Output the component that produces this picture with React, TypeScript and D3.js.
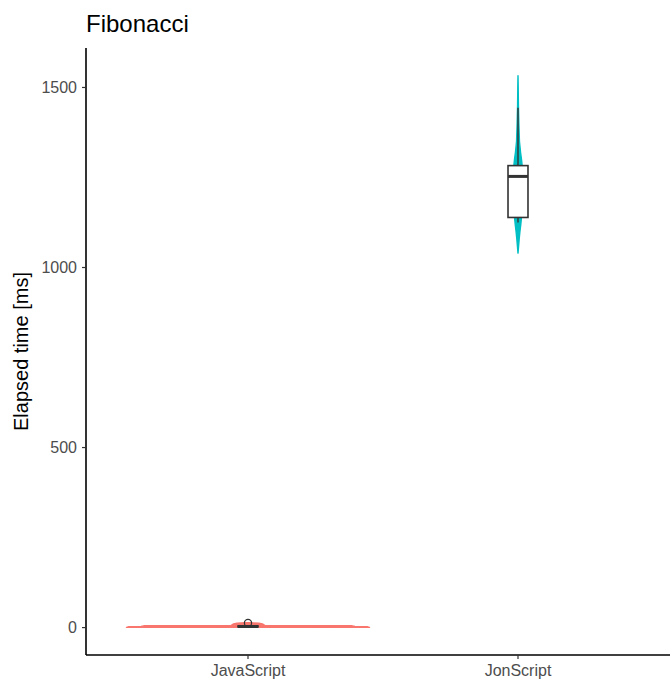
import React from 'react';
import * as d3 from 'd3';

// categories
const languages = ['JavaScript', 'JonScript'];
const langColors = ['#F8766D', '#00BFC4'];

// violin profiles: value [ms] and relative density (1 = full violin width)
const jsViolinValue = [0.5, 2.5, 3, 5, 5.5, 8, 10, 12, 13.5];
const jsViolinDensity = [1.0, 0.98, 0.88, 0.85, 0.14, 0.13, 0.12, 0.09, 0.02];
const jonViolinValue = [1040, 1060, 1080, 1100, 1120, 1140, 1180, 1220, 1250, 1280, 1300, 1320, 1350, 1400, 1450, 1500, 1533];
const jonViolinDensity = [0, 0.005, 0.01, 0.016, 0.023, 0.029, 0.035, 0.038, 0.04, 0.035, 0.029, 0.021, 0.012, 0.007, 0.0035, 0.0017, 0];

// boxplot stats: lower whisker, q1, median, q3, upper whisker
const jsBox = [1, 2, 3, 4.5, 7];
const jonBox = [1125, 1139, 1253, 1283, 1444];
const jsOutliers = [13];
const jonOutliers: number[] = [];

const yTicks = [0, 500, 1000, 1500];

const W = 670;
const H = 680;
const FONT = 'Liberation Sans, Arial, Helvetica, sans-serif';

const App = () => {
  const left = 86;
  const top = 48;
  const bottom = 655;

  const violins = [
    { value: jsViolinValue, density: jsViolinDensity },
    { value: jonViolinValue, density: jonViolinDensity },
  ];
  const boxes = [jsBox, jonBox];
  const outliers = [jsOutliers, jonOutliers];

  // ggplot style 5% expansion of the data range
  const allVals = [...jsViolinValue, ...jonViolinValue, ...jsOutliers];
  const lo = d3.min(allVals)!;
  const hi = d3.max(allVals)!;
  const pad = (hi - lo) * 0.05;

  const x = d3.scaleLinear().domain([0.4, 2.6]).range([left, 680]);
  const y = d3.scaleLinear().domain([lo - pad, hi + pad]).range([bottom, top]);

  // half width of violin in px (0.9 band units total)
  const halfW = d3.scaleLinear().domain([0, 1]).range([0, x(1.45) - x(1)]);
  const boxHalf = x(1.037) - x(1);

  return (
    <svg width={W} height={H} style={{ position: 'absolute', top: 0, left: 0, background: '#fff' }}>
      <text x={left} y={32} fontFamily={FONT} fontSize={24} fill="#000">Fibonacci</text>

      {/* violins */}
      {violins.map((v, i) => {
        const cx = x(i + 1);
        const pts = v.value.map((val, k) => ({ val, d: v.density[k] }));
        const area = d3.area<{ val: number; d: number }>()
          .y(p => y(p.val))
          .x0(p => cx - halfW(p.d))
          .x1(p => cx + halfW(p.d));
        return (
          <path key={'v' + i} d={area(pts)!} fill={langColors[i]} stroke={langColors[i]}
            strokeWidth={1.4} strokeLinejoin="round" />
        );
      })}

      {/* boxplots */}
      {boxes.map((b, i) => {
        const cx = x(i + 1);
        return (
          <g key={'b' + i} stroke="#333333" fill="none">
            <line x1={cx} x2={cx} y1={y(b[0])} y2={y(b[1])} strokeWidth={1.4} />
            <line x1={cx} x2={cx} y1={y(b[3])} y2={y(b[4])} strokeWidth={1.4} />
            <rect x={cx - boxHalf} width={boxHalf * 2} y={y(b[3])} height={Math.max(y(b[1]) - y(b[3]), 0.5)}
              fill="#fff" strokeWidth={1.6} />
            <line x1={cx - boxHalf} x2={cx + boxHalf} y1={y(b[2])} y2={y(b[2])} strokeWidth={3} />
            {outliers[i].map((o, k) => (
              <circle key={k} cx={cx} cy={y(o)} r={3.6} strokeWidth={1.2} fill="none" />
            ))}
          </g>
        );
      })}

      {/* y axis */}
      <line x1={left} x2={left} y1={top} y2={bottom} stroke="#000" strokeWidth={1.6} />
      {yTicks.map(t => (
        <g key={t}>
          <line x1={left - 4} x2={left} y1={y(t)} y2={y(t)} stroke="#333333" strokeWidth={1.2} />
          <text x={left - 9} y={y(t)} dy="0.36em" textAnchor="end" fontFamily={FONT} fontSize={16} fill="#4D4D4D">{t}</text>
        </g>
      ))}
      <text transform={`translate(28,${(top + bottom) / 2}) rotate(-90)`} textAnchor="middle"
        fontFamily={FONT} fontSize={20} fill="#000">Elapsed time [ms]</text>

      {/* x axis */}
      <line x1={left} x2={W} y1={bottom} y2={bottom} stroke="#000" strokeWidth={1.6} />
      {languages.map((l, i) => (
        <g key={l}>
          <line x1={x(i + 1)} x2={x(i + 1)} y1={bottom} y2={bottom + 4} stroke="#333333" strokeWidth={1.2} />
          <text x={x(i + 1)} y={676} textAnchor="middle" fontFamily={FONT} fontSize={16} fill="#4D4D4D">{l}</text>
        </g>
      ))}
    </svg>
  );
};

export default App;
